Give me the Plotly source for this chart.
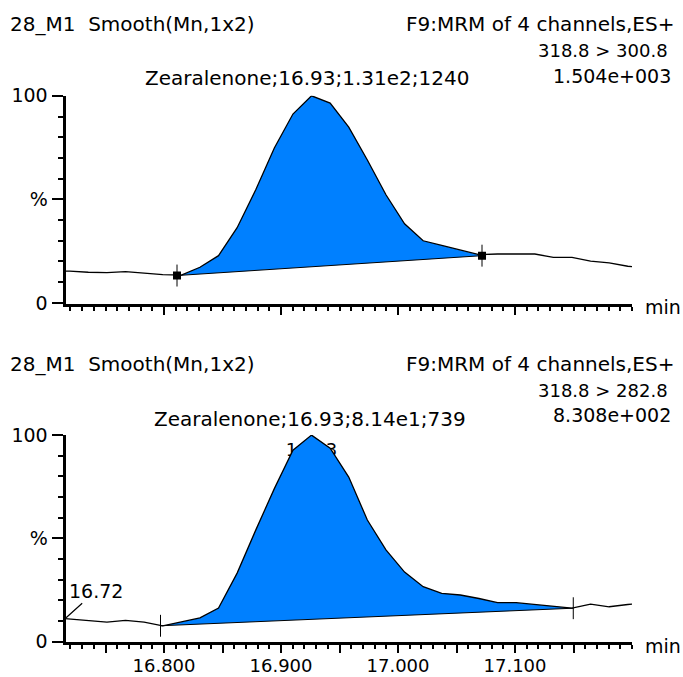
import plotly.graph_objects as go

W, H = 683, 677
FONT = "DejaVu Sans"
BLUE = "#0080ff"

# ---------------- data ----------------
times = [16.7035, 16.7194, 16.7353, 16.7512, 16.7671, 16.7830, 16.7989, 16.8148,
         16.8307, 16.8466, 16.8625, 16.8784, 16.8943, 16.9102, 16.9261, 16.9420,
         16.9579, 16.9738, 16.9897, 17.0056, 17.0215, 17.0374, 17.0533, 17.0692,
         17.0851, 17.1010, 17.1169, 17.1328, 17.1487, 17.1646, 17.1805, 17.1964,
         17.2123]

top_pct = [15.3, 15.3, 14.8, 14.6, 15.1, 14.4, 13.6, 13.4, 17.2, 22.8, 36.3, 54.6,
           74.8, 91.2, 100.0, 96.5, 84.9, 69.0, 52.2, 38.2, 30.0, 27.8, 25.7, 23.3,
           23.6, 23.6, 23.6, 22.0, 22.0, 20.2, 19.3, 17.7, 17.0]

bottom_pct = [11.7, 11.0, 10.2, 9.5, 10.3, 9.5, 7.7, 9.5, 11.5, 16.3, 33.2, 54.0,
              74.1, 92.7, 100.0, 93.7, 79.7, 58.9, 44.4, 33.7, 26.6, 23.4, 22.6, 20.9,
              18.9, 18.9, 18.0, 17.0, 16.2, 18.2, 16.9, 18.0, 18.7]

# integration limits (time, %)
top_int_start = (16.8111, 13.2)
top_int_end = (17.0718, 22.8)
bottom_int_start = (16.7970, 7.7)
bottom_int_end = (17.1498, 16.2)

top_header_left = "28_M1  Smooth(Mn,1x2)"
top_header_right = ["F9:MRM of 4 channels,ES+", "318.8 > 300.8", "1.504e+003"]
top_peak_label = "Zearalenone;16.93;1.31e2;1240"

bottom_header_left = "28_M1  Smooth(Mn,1x2)"
bottom_header_right = ["F9:MRM of 4 channels,ES+", "318.8 > 282.8", "8.308e+002"]
bottom_peak_label = "Zearalenone;16.93;8.14e1;739"
bottom_apex_label = "16.93"
bottom_start_label = ("16.72", 16.7163, 11.6)

x_major = [16.75, 16.80, 16.85, 16.90, 16.95, 17.00, 17.05, 17.10, 17.15]
x_major_text = ["", "16.800", "", "16.900", "", "17.000", "", "17.100", ""]
y_ticks = [0, 50, 100]
y_tick_text = ["0", "%", "100"]

# ---------------- helpers ----------------
def px(x):
    return x / W

def py(y):
    return 1 - y / H

def polygon(t, y, start, end):
    xs = [start[0]] + [a for a in t if start[0] < a < end[0]] + [end[0]]
    ys = [start[1]] + [b for a, b in zip(t, y) if start[0] < a < end[0]] + [end[1]]
    return xs, ys

fig = go.Figure()

def add_panel(xa, ya, t, y, start, end, squares, hidden_label=None):
    if hidden_label is not None:
        fig.add_trace(go.Scatter(x=[t[y.index(max(y))]], y=[92.0], mode="text",
                                 text=[hidden_label], textfont=dict(family=FONT, size=18, color="black"),
                                 xaxis=xa, yaxis=ya, hoverinfo="skip", showlegend=False))
    xs, ys = polygon(t, y, start, end)
    fig.add_trace(go.Scatter(x=xs, y=ys, fill="toself", fillcolor=BLUE, mode="lines",
                             line=dict(width=0, color=BLUE), xaxis=xa, yaxis=ya,
                             hoverinfo="skip", showlegend=False))
    fig.add_trace(go.Scatter(x=t, y=y, mode="lines", line=dict(color="black", width=1.3),
                             xaxis=xa, yaxis=ya, showlegend=False))
    fig.add_trace(go.Scatter(x=[start[0], end[0]], y=[start[1], end[1]], mode="lines",
                             line=dict(color="black", width=1), xaxis=xa, yaxis=ya,
                             showlegend=False))
    for p in (start, end):
        fig.add_trace(go.Scatter(x=[p[0], p[0]], y=[p[1] - 5.3, p[1] + 5.3], mode="lines",
                                 line=dict(color="black", width=1), xaxis=xa, yaxis=ya,
                                 showlegend=False))
    if squares:
        fig.add_trace(go.Scatter(x=[start[0], end[0]], y=[start[1], end[1]], mode="markers",
                                 marker=dict(symbol="square", size=8, color="black"),
                                 xaxis=xa, yaxis=ya, showlegend=False))

add_panel("x", "y", times, top_pct, top_int_start, top_int_end, True)
add_panel("x2", "y2", times, bottom_pct, bottom_int_start, bottom_int_end, False,
          hidden_label=bottom_apex_label)

xdom = [65.5 / W, 632 / W]
xrange = [16.7158, 17.2]

def xaxis_cfg(anchor, labels):
    return dict(domain=xdom, anchor=anchor, range=xrange, showline=True, linewidth=3,
                linecolor="black", showgrid=False, zeroline=False, ticks="outside",
                tickvals=x_major, ticktext=x_major_text, ticklen=8, tickwidth=2,
                tickcolor="black", showticklabels=labels, automargin=False,
                ticklabelstandoff=-3,
                tickfont=dict(family=FONT, size=18, color="black"),
                minor=dict(tick0=16.7, dtick=0.01, ticks="outside", ticklen=4,
                           tickwidth=2, tickcolor="black", showgrid=False))

def yaxis_cfg(anchor, dom):
    return dict(domain=dom, anchor=anchor, range=[-0.3, 100.05], showline=True,
                linewidth=3, linecolor="black", showgrid=False, zeroline=False,
                ticks="outside", tickvals=y_ticks, ticktext=y_tick_text, ticklen=11,
                tickwidth=2, tickcolor="black", automargin=False,
                tickfont=dict(family=FONT, size=19, color="black"),
                minor=dict(dtick=10, tick0=0, ticks="outside", ticklen=5, tickwidth=2,
                           tickcolor="black", showgrid=False))

annotations = []

def txt(s, x, y, xanchor, size=20):
    annotations.append(dict(text=s, x=px(x), y=py(y), xref="paper", yref="paper",
                            xanchor=xanchor, yanchor="middle", showarrow=False,
                            font=dict(family=FONT, size=size, color="black")))

# top panel texts
txt(top_header_left, 8, 24, "left")
txt(top_header_right[0], 676, 24, "right")
txt(top_header_right[1], 670, 50, "right", 18)
txt(top_header_right[2], 673, 76, "right", 19)
txt(top_peak_label, 307, 78, "center")
txt("min", 643, 307, "left", 19)

# bottom panel texts
txt(bottom_header_left, 8, 364, "left")
txt(bottom_header_right[0], 676, 364, "right")
txt(bottom_header_right[1], 670, 390, "right", 18)
txt(bottom_header_right[2], 673, 415, "right", 19)
txt(bottom_peak_label, 310, 419, "center")
txt("min", 643, 646, "left", 19)

annotations.append(dict(text=bottom_start_label[0], x=bottom_start_label[1],
                        y=bottom_start_label[2], xref="x2", yref="y2",
                        showarrow=True, arrowhead=0, arrowwidth=1.2, arrowcolor="black",
                        ax=30, ay=-27, xanchor="center", yanchor="middle", standoff=0,
                        font=dict(family=FONT, size=19, color="black")))

fig.update_layout(
    template="none",
    width=W, height=H, margin=dict(l=0, r=0, t=0, b=0, pad=0),
    paper_bgcolor="white", plot_bgcolor="white", showlegend=False,
    xaxis=xaxis_cfg("y", False),
    yaxis=yaxis_cfg("x", [1 - 303.5 / H, 1 - 95.7 / H]),
    xaxis2=xaxis_cfg("y2", True),
    yaxis2=yaxis_cfg("x2", [1 - 642.3 / H, 1 - 435 / H]),
    annotations=annotations,
)

fig.write_html("out.html")
